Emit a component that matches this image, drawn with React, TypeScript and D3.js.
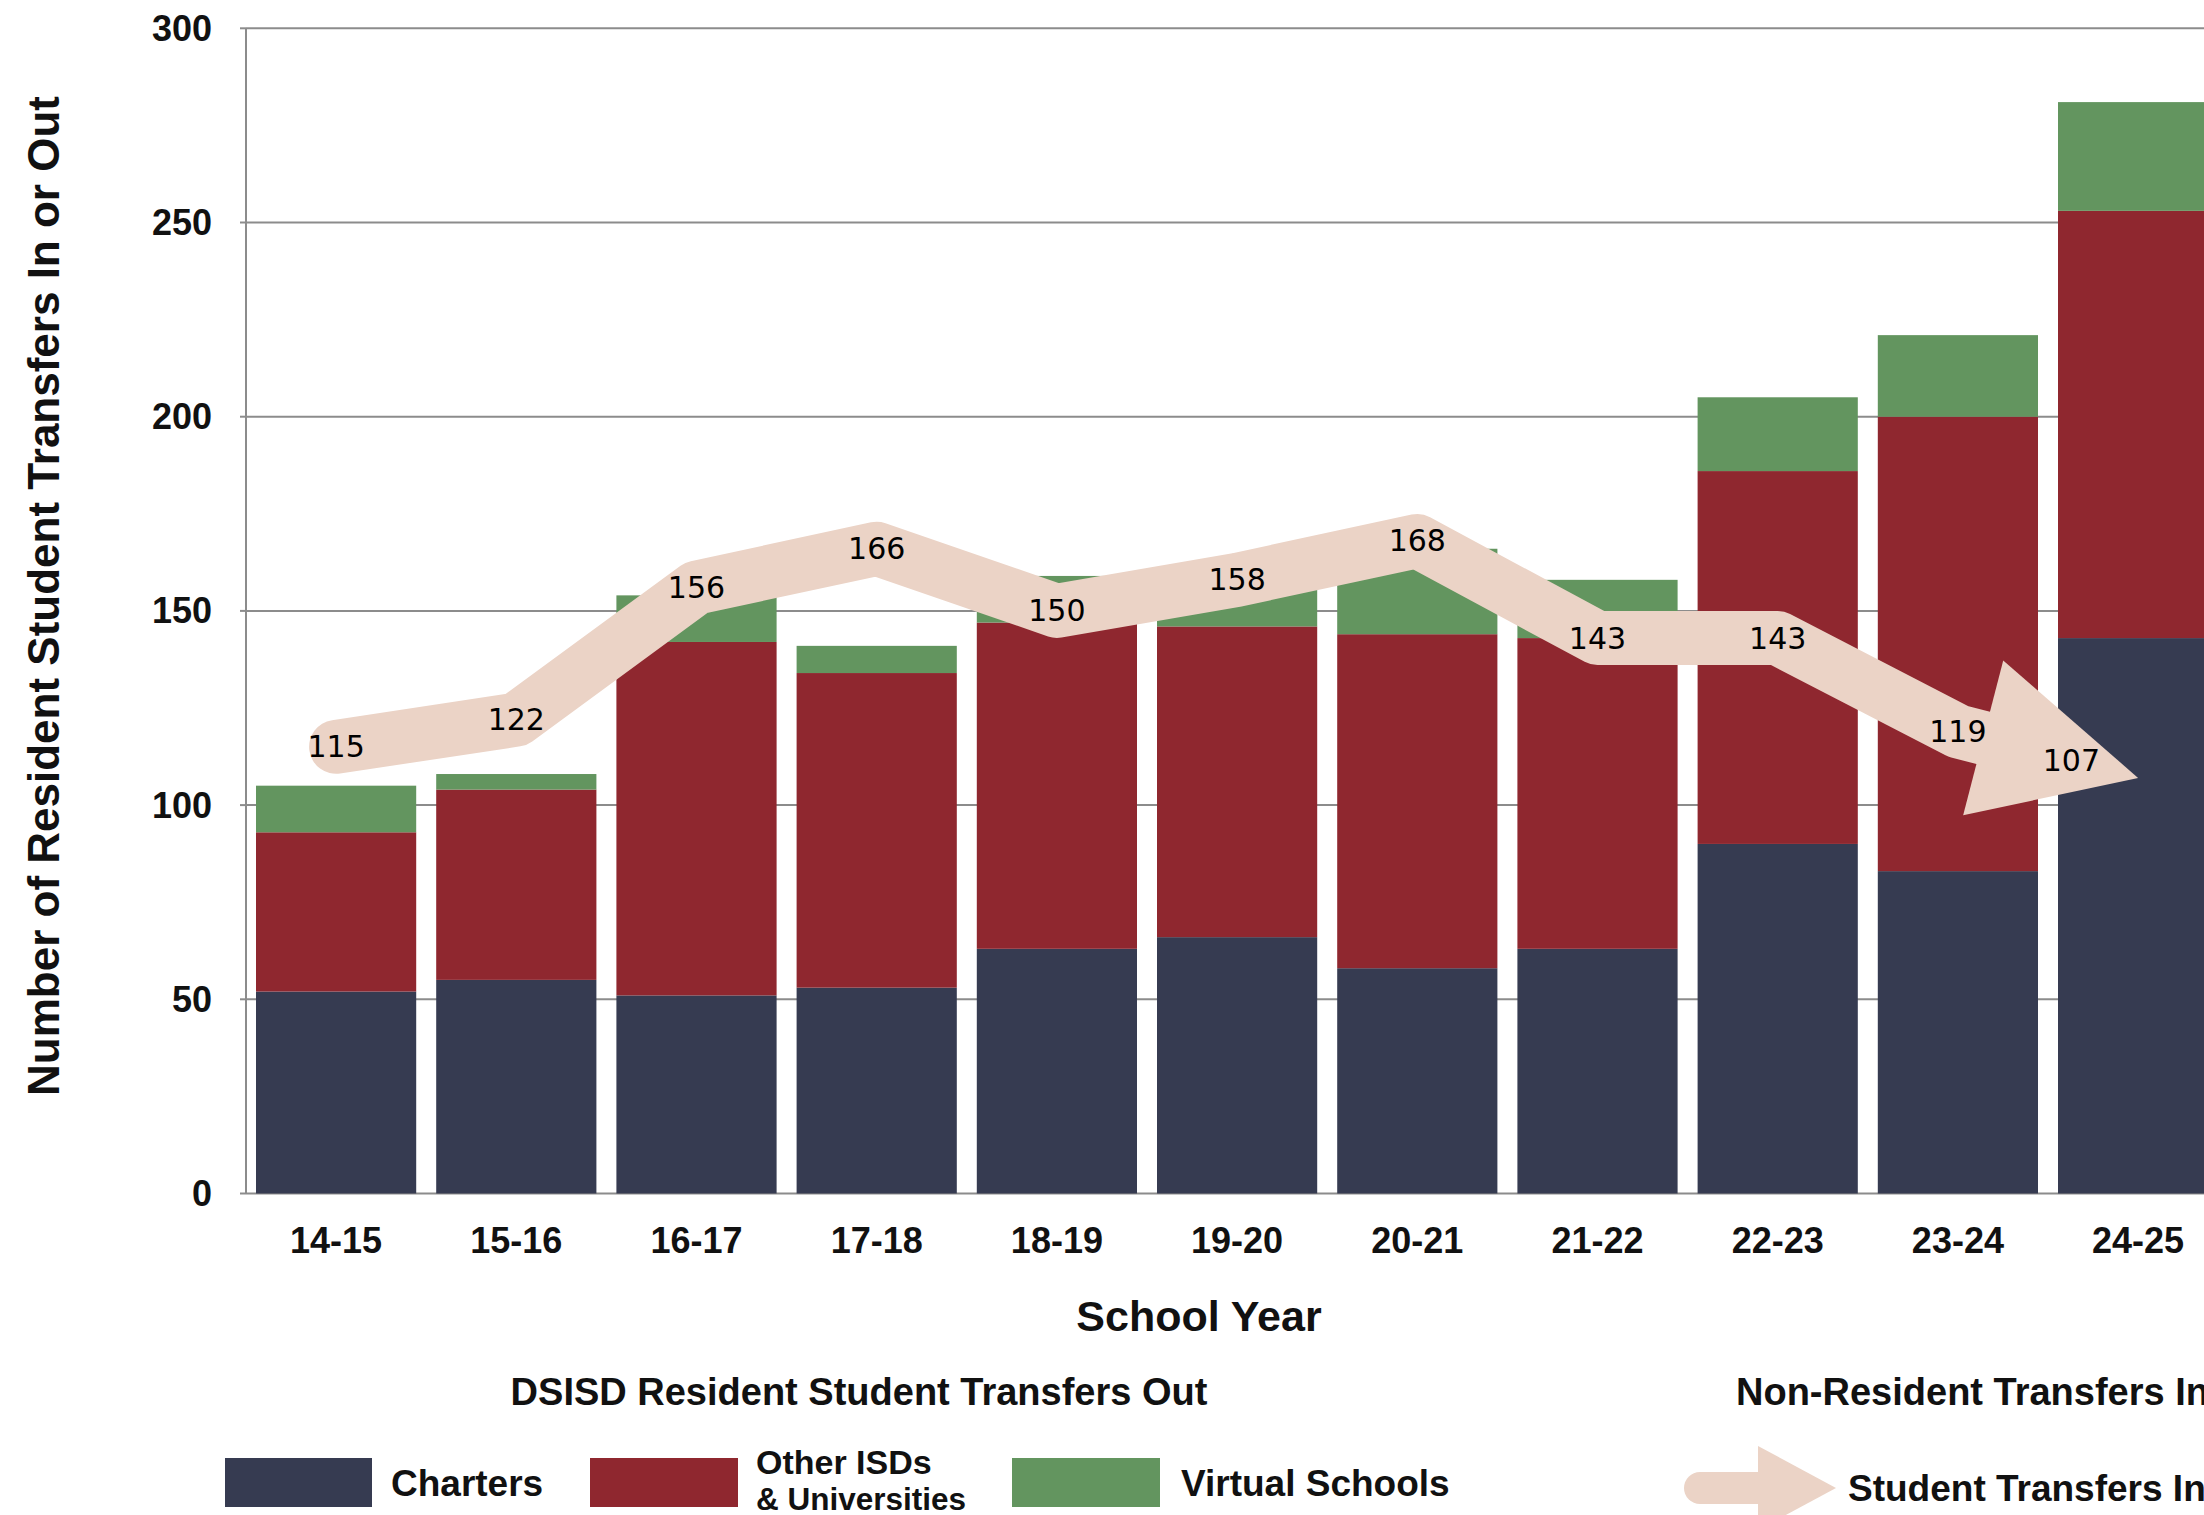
import React from 'react';
import * as d3 from 'd3';

// School years on the x axis
const years = ['14-15', '15-16', '16-17', '17-18', '18-19', '19-20', '20-21', '21-22', '22-23', '23-24', '24-25'];

// Resident student transfers out, by destination
const charters = [52, 55, 51, 53, 63, 66, 58, 63, 90, 83, 143];
const otherISDs = [41, 49, 91, 81, 84, 80, 86, 80, 96, 117, 110];
const virtualSchools = [12, 4, 12, 7, 12, 11, 22, 15, 19, 21, 28];

// Non-resident students transferring in
const transfersIn = [115, 122, 156, 166, 150, 158, 168, 143, 143, 119, 107];

const yTicks = [0, 50, 100, 150, 200, 250, 300];

const seriesKeys = ['charters', 'otherISDs', 'virtualSchools'];
const seriesColors: Record<string, string> = {
  charters: '#363B51',
  otherISDs: '#8F272F',
  virtualSchools: '#63955F',
};
const arrowColor = '#EBD3C6';
const gridColor = '#8C8C8C';

const W = 2204;
const H = 1515;
const sans = '"Liberation Sans", Arial, sans-serif';
const labelFont = '"DejaVu Sans", Verdana, sans-serif';

export default function App() {
  const plotLeft = 246;
  const step = 180.2;
  const x = d3
    .scaleBand<string>()
    .domain(years)
    .range([plotLeft, plotLeft + years.length * step])
    .paddingInner(0.111)
    .paddingOuter(0.0555);
  const y = d3.scaleLinear().domain([0, 300]).range([1193.5, 28.3]);

  const rows = years.map((year, i) => ({
    year,
    charters: charters[i],
    otherISDs: otherISDs[i],
    virtualSchools: virtualSchools[i],
  }));
  const stacked = d3.stack<any>().keys(seriesKeys)(rows);

  // Transfers-in arrow: thick polyline ending in a triangular head
  const pts: [number, number][] = transfersIn.map((v, i) => [
    (x(years[i]) as number) + x.bandwidth() / 2,
    y(v),
  ]);
  const n = pts.length;
  const [tx, ty] = pts[n - 1];
  const [px, py] = pts[n - 2];
  const dx = tx - px;
  const dy = ty - py;
  const len = Math.hypot(dx, dy);
  const ux = dx / len;
  const uy = dy / len;
  const shaftW = 54;
  const headL = 160;
  const headW = 160;
  const bx = tx - ux * headL;
  const by = ty - uy * headL;
  const nx = -uy;
  const ny = ux;
  const head: [number, number][] = [
    [tx, ty],
    [bx + (nx * headW) / 2, by + (ny * headW) / 2],
    [bx - (nx * headW) / 2, by - (ny * headW) / 2],
  ];
  const shaftPts: [number, number][] = [...pts.slice(0, n - 1), [bx, by]];
  const line = d3.line();

  const labelPos = pts.map(([lx, ly], i) =>
    i === n - 1 ? [tx - dx * 0.37, ty - dy * 0.37] : [lx, ly]
  );

  return (
    <div style={{ position: 'absolute', left: 0, top: 0, width: W, height: H, overflow: 'hidden', background: '#fff' }}>
      <svg width={W} height={H} viewBox={`0 0 ${W} ${H}`} style={{ display: 'block' }}>
        <rect width={W} height={H} fill="#fff" />

        {/* gridlines */}
        {yTicks.map((t) => (
          <line key={t} x1={plotLeft} x2={W} y1={y(t)} y2={y(t)} stroke={gridColor} strokeWidth={2} />
        ))}
        {/* y axis line and ticks */}
        <line x1={plotLeft} x2={plotLeft} y1={y(300)} y2={y(0)} stroke={gridColor} strokeWidth={2} />
        {yTicks.map((t) => (
          <line key={'tk' + t} x1={plotLeft - 6} x2={plotLeft} y1={y(t)} y2={y(t)} stroke={gridColor} strokeWidth={2} />
        ))}
        {yTicks.map((t) => (
          <text
            key={'yl' + t}
            x={212}
            y={y(t)}
            textAnchor="end"
            dominantBaseline="central"
            fontFamily={sans}
            fontWeight={700}
            fontSize={36}
            fill="#111"
          >
            {t}
          </text>
        ))}

        {/* stacked bars */}
        {stacked.map((s) => (
          <g key={s.key} fill={seriesColors[s.key]}>
            {s.map((d, i) => (
              <rect
                key={i}
                x={x(years[i])}
                width={x.bandwidth()}
                y={y(d[1])}
                height={y(d[0]) - y(d[1])}
              />
            ))}
          </g>
        ))}

        {/* x axis labels */}
        {years.map((yr) => (
          <text
            key={yr}
            x={(x(yr) as number) + x.bandwidth() / 2}
            y={1253}
            textAnchor="middle"
            fontFamily={sans}
            fontWeight={700}
            fontSize={36}
            fill="#111"
          >
            {yr}
          </text>
        ))}

        {/* transfers-in arrow */}
        <path
          d={line(shaftPts) as string}
          fill="none"
          stroke={arrowColor}
          strokeWidth={shaftW}
          strokeLinejoin="round"
          strokeLinecap="round"
        />
        <polygon points={head.map((p) => p.join(',')).join(' ')} fill={arrowColor} />
        {transfersIn.map((v, i) => (
          <text
            key={'al' + i}
            x={labelPos[i][0]}
            y={labelPos[i][1]}
            textAnchor="middle"
            dominantBaseline="central"
            fontFamily={labelFont}
            fontSize={30}
            fill="#000"
          >
            {v}
          </text>
        ))}

        {/* axis titles */}
        <text
          transform="translate(43,596) rotate(-90)"
          textAnchor="middle"
          dominantBaseline="central"
          fontFamily={sans}
          fontWeight={700}
          fontSize={44}
          fill="#111"
        >
          Number of Resident Student Transfers In or Out
        </text>
        <text x={1199} y={1331} textAnchor="middle" fontFamily={sans} fontWeight={700} fontSize={43} fill="#111">
          School Year
        </text>

        {/* legend */}
        <text x={859} y={1405} textAnchor="middle" fontFamily={sans} fontWeight={700} fontSize={38} fill="#111">
          DSISD Resident Student Transfers Out
        </text>
        <text x={1736} y={1405} fontFamily={sans} fontWeight={700} fontSize={38} fill="#111">
          Non-Resident Transfers In
        </text>

        <rect x={225} y={1458} width={147} height={49} fill={seriesColors.charters} />
        <text x={391} y={1496} fontFamily={sans} fontWeight={700} fontSize={37} fill="#111">
          Charters
        </text>

        <rect x={590} y={1458} width={148} height={49} fill={seriesColors.otherISDs} />
        <text x={756} y={1474} fontFamily={sans} fontWeight={700} fontSize={34} fill="#111">
          Other ISDs
        </text>
        <text x={756} y={1510} fontFamily={sans} fontWeight={700} fontSize={31.5} fill="#111">
          &amp; Universities
        </text>

        <rect x={1012} y={1458} width={148} height={49} fill={seriesColors.virtualSchools} />
        <text x={1181} y={1496} fontFamily={sans} fontWeight={700} fontSize={37} fill="#111">
          Virtual Schools
        </text>

        <line x1={1700} x2={1762} y1={1488} y2={1488} stroke={arrowColor} strokeWidth={32} strokeLinecap="round" />
        <polygon points="1758,1446 1836,1488 1758,1530" fill={arrowColor} />
        <text x={1848} y={1501} fontFamily={sans} fontWeight={700} fontSize={37} fill="#111">
          Student Transfers In
        </text>
      </svg>
    </div>
  );
}
